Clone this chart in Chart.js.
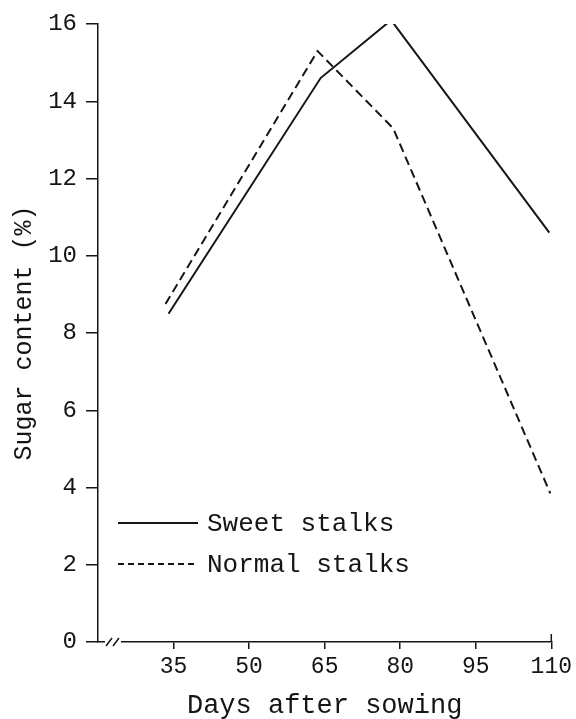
<!DOCTYPE html>
<html>
<head>
<meta charset="utf-8">
<script src="https://cdn.jsdelivr.net/npm/chart.js@4/dist/chart.umd.min.js"></script>
<style>
  html, body { margin: 0; padding: 0; background: #fff; }
  .box { position: relative; width: 576px; height: 719px; }
</style>
</head>
<body>
<div class="box"><canvas id="chart"></canvas></div>
<script>
const xTicks = [35, 50, 65, 80, 95, 110];
const sweetDays = [34, 64.2, 78.2, 109.6];
const sweetSugar = [8.5, 14.6, 16.1, 10.6];
const normalDays = [33.4, 63.6, 78.6, 109.8];
const normalSugar = [8.75, 15.3, 13.3, 3.85];
const seriesNames = ["Sweet stalks", "Normal stalks"];

const ink = "#151515";
const font = "'Liberation Mono', 'Courier New', monospace";
const points = (xs, ys) => xs.map((x, i) => ({ x, y: ys[i] }));

const decor = {
  id: "decor",
  beforeDraw(chart) {
    const c = chart.ctx;
    c.save();
    c.fillStyle = "#fff";
    c.fillRect(0, 0, chart.width, chart.height);
    c.restore();
  },
  afterDraw(chart) {
    const c = chart.ctx;
    const area = chart.chartArea;
    const y0 = area.bottom;
    c.save();
    // axis break
    c.fillStyle = "#fff";
    c.fillRect(area.left + 7, y0 - 3, 16, 6);
    c.strokeStyle = ink;
    c.lineWidth = 1.5;
    c.beginPath();
    c.moveTo(area.left + 8, y0 + 4); c.lineTo(area.left + 14, y0 - 4);
    c.moveTo(area.left + 15, y0 + 4); c.lineTo(area.left + 21, y0 - 4);
    c.moveTo(area.right, y0); c.lineTo(area.right, y0 - 8);
    c.stroke();

    // legend
    c.font = "26px " + font;
    c.fillStyle = ink;
    c.textBaseline = "middle";
    const rows = [523, 564];
    chart.data.datasets.forEach((ds, i) => {
      const y = rows[i];
      c.beginPath();
      c.setLineDash(ds.borderDash ? [6, 4] : []);
      c.lineWidth = 2;
      c.moveTo(118, y);
      c.lineTo(198, y);
      c.stroke();
      c.setLineDash([]);
      c.fillText(ds.label, 207, y + 1);
    });
    c.restore();
  }
};

new Chart(document.getElementById("chart"), {
  type: "line",
  data: {
    datasets: [
      {
        label: seriesNames[0],
        data: points(sweetDays, sweetSugar),
        borderColor: ink,
        borderWidth: 2,
        pointRadius: 0,
        tension: 0,
        fill: false
      },
      {
        label: seriesNames[1],
        data: points(normalDays, normalSugar),
        borderColor: ink,
        borderWidth: 2,
        borderDash: [9, 5],
        pointRadius: 0,
        tension: 0,
        fill: false
      }
    ]
  },
  options: {
    responsive: true,
    maintainAspectRatio: false,
    animation: false,
    events: [],
    layout: { padding: { top: 24, right: 20, bottom: 0, left: 0 } },
    plugins: { legend: { display: false }, tooltip: { enabled: false } },
    scales: {
      x: {
        type: "linear",
        min: 20,
        max: 110,
        afterBuildTicks: (scale) => { scale.ticks = xTicks.map((value) => ({ value })); },
        afterFit: (scale) => { scale.height = 77; },
        grid: { drawOnChartArea: false, drawTicks: true, tickLength: 7, color: ink, lineWidth: 1.5 },
        border: { display: true, color: ink, width: 1.5 },
        ticks: { color: ink, font: { family: font, size: 23 }, padding: 4, maxRotation: 0 },
        title: { display: true, text: "Days after sowing", color: ink, font: { family: font, size: 27, lineHeight: 1 }, padding: { top: 0, bottom: 0 } }
      },
      y: {
        min: 0,
        max: 16,
        afterFit: (scale) => { scale.width = 98; },
        grid: { drawOnChartArea: false, drawTicks: true, tickLength: 12, color: ink, lineWidth: 1.5 },
        border: { display: true, color: ink, width: 1.5 },
        ticks: { stepSize: 2, color: ink, font: { family: font, size: 24 }, padding: 9 },
        title: { display: true, text: "Sugar content (%)", color: ink, font: { family: font, size: 25 }, padding: { top: 9, bottom: 0 } }
      }
    }
  },
  plugins: [decor]
});
</script>
</body>
</html>
